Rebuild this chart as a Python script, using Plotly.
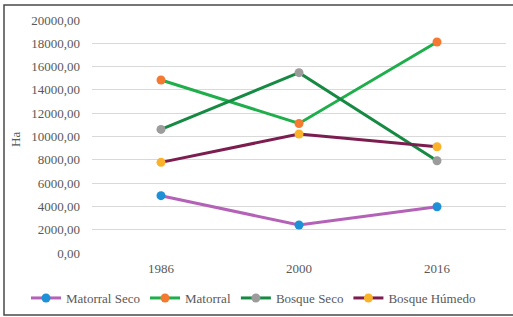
import plotly.graph_objects as go

years = ["1986", "2000", "2016"]
matorral_seco = [4920, 2400, 3970]
matorral = [14850, 11120, 18110]
bosque_seco = [10610, 15480, 7920]
bosque_humedo = [7780, 10210, 9120]

y_ticks = [0, 2000, 4000, 6000, 8000, 10000, 12000, 14000, 16000, 18000, 20000]
y_ticktext = [f"{v},00" for v in y_ticks]

series = [
    ("Matorral Seco", matorral_seco, "#b462b8", "#1e90d6"),
    ("Matorral", matorral, "#1fae4b", "#f47a32"),
    ("Bosque Seco", bosque_seco, "#168a42", "#9c9c9c"),
    ("Bosque Húmedo", bosque_humedo, "#7c1d50", "#fbb22b"),
]

W, H = 513, 317
ml, mr, mt, mb = 92, 7, 20, 64
pw, ph = W - ml - mr, H - mt - mb

fig = go.Figure()
for name, vals, lc, mc in series:
    fig.add_trace(go.Scatter(
        x=years, y=vals, name=name, mode="lines+markers",
        line=dict(color=lc, width=3),
        marker=dict(color=mc, size=9, line=dict(width=0)),
    ))

def px_x(x):
    return (x - ml) / pw

def px_y(y):
    return (H - mb - y) / ph

border = dict(color="#4a4a4a", width=1.5)
fig.add_shape(type="rect", xref="paper", yref="paper",
              x0=px_x(4), x1=px_x(516), y0=px_y(5), y1=px_y(315),
              line=border, fillcolor="rgba(0,0,0,0)", layer="above")

FAM = "Liberation Serif, Times New Roman, serif"
font = dict(family=FAM, size=13, color="#595959")
fig.add_annotation(text="Ha", xref="paper", yref="paper", x=px_x(15), y=px_y(140),
                   textangle=-90, showarrow=False, font=font,
                   xanchor="center", yanchor="middle")

fig.update_layout(
    width=W, height=H,
    margin=dict(l=ml, r=mr, t=mt, b=mb, autoexpand=False),
    paper_bgcolor="white", plot_bgcolor="white",
    font=font,
    showlegend=True,
    legend=dict(orientation="h", x=px_x(26), xanchor="left", y=px_y(298), yanchor="middle",
                font=font, tracegroupgap=0),
    xaxis=dict(type="category", showgrid=False, showline=False, zeroline=False,
               ticks="", tickfont=font, range=[-0.5, 2.5], ticklabelstandoff=6),
    yaxis=dict(range=[0, 20000], tickvals=y_ticks, ticktext=y_ticktext,
               showgrid=True, gridcolor="#d9d9d9", gridwidth=1, zeroline=False,
               showline=False, ticks="", tickfont=font, ticklabelstandoff=11),
)

fig.write_html("out.html", config={"displayModeBar": False},
               post_script="document.body.style.margin='0';document.body.style.overflow='hidden';")
